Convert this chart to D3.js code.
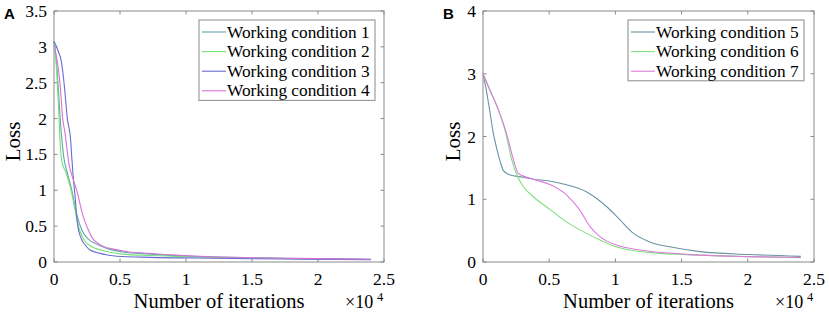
<!DOCTYPE html>
<html>
<script src="https://d3js.org/d3.v7.min.js"></script>

<head>
    <style>
        body {
            margin: 0;
            background-color: #ffffff;
        }

        svg {
            display: block;
        }

        .serif {
            font-family: "Liberation Serif", Tinos, "Times New Roman", "DejaVu Serif", serif;
        }

        .letter {
            font-family: "Liberation Sans", Arimo, Arial, sans-serif;
            font-weight: bold;
        }
    </style>
</head>

<body>
</body>
<script>
    const width = 829,
        height = 323;

    // iterations in units of 1e4, loss values
    const namesA = ["Working condition 1", "Working condition 2", "Working condition 3", "Working condition 4"];
    const namesB = ["Working condition 5", "Working condition 6", "Working condition 7"];

    const cond1 = [[0, 3.08], [0.015, 2.85], [0.03, 2.5], [0.045, 2.05], [0.06, 1.7], [0.075, 1.45], [0.1, 1.25],
        [0.135, 1.0], [0.17, 0.68], [0.21, 0.45], [0.26, 0.32], [0.31, 0.26], [0.4, 0.19], [0.52, 0.14],
        [0.73, 0.11], [1.1, 0.075], [1.5, 0.058], [1.86, 0.048], [2.4, 0.038]];
    const cond2 = [[0, 3.05], [0.015, 2.8], [0.025, 2.5], [0.038, 2.0], [0.048, 1.6], [0.06, 1.4], [0.09, 1.25],
        [0.13, 1.0], [0.155, 0.77], [0.18, 0.54], [0.22, 0.33], [0.28, 0.22], [0.35, 0.17], [0.52, 0.11],
        [0.73, 0.09], [1.1, 0.07], [1.5, 0.055], [1.86, 0.045], [2.4, 0.035]];
    const cond3 = [[0, 3.08], [0.03, 2.95], [0.055, 2.8], [0.076, 2.5], [0.101, 2.0], [0.126, 1.7], [0.135, 1.45],
        [0.145, 1.2], [0.16, 0.91], [0.177, 0.54], [0.21, 0.31], [0.235, 0.24], [0.27, 0.17], [0.35, 0.12],
        [0.475, 0.08], [0.73, 0.065], [1.1, 0.055], [1.5, 0.045], [1.86, 0.04], [2.4, 0.033]];
    const cond4 = [[0, 3.02], [0.02, 2.85], [0.045, 2.5], [0.066, 2.0], [0.083, 1.8], [0.1, 1.55], [0.115, 1.35],
        [0.134, 1.22], [0.172, 1.0], [0.222, 0.63], [0.255, 0.47], [0.285, 0.35], [0.37, 0.22], [0.45, 0.18],
        [0.57, 0.14], [0.73, 0.12], [1.1, 0.08], [1.5, 0.06], [1.86, 0.05], [2.4, 0.038]];

    const cond5 = [[0, 3.0], [0.02, 2.8], [0.05, 2.42], [0.078, 2.05], [0.1, 1.84], [0.13, 1.6], [0.153, 1.46],
        [0.2, 1.39], [0.3, 1.35], [0.38, 1.32], [0.5, 1.29], [0.63, 1.23], [0.78, 1.12], [0.935, 0.88],
        [1.035, 0.67], [1.135, 0.46], [1.26, 0.32], [1.44, 0.23], [1.64, 0.165], [2.0, 0.12], [2.4, 0.09]];
    const cond6 = [[0, 3.0], [0.05, 2.75], [0.117, 2.42], [0.166, 2.1], [0.18, 1.98], [0.217, 1.63], [0.255, 1.39],
        [0.305, 1.2], [0.38, 1.04], [0.51, 0.83], [0.63, 0.64], [0.76, 0.48], [0.885, 0.35], [1.01, 0.24],
        [1.26, 0.15], [1.64, 0.11], [2.0, 0.085], [2.4, 0.07]];
    const cond7 = [[0, 3.0], [0.05, 2.75], [0.117, 2.42], [0.18, 2.03], [0.23, 1.63], [0.267, 1.41], [0.38, 1.32],
        [0.51, 1.23], [0.63, 1.07], [0.73, 0.83], [0.81, 0.56], [0.885, 0.40], [1.01, 0.27], [1.19, 0.19],
        [1.64, 0.11], [2.0, 0.085], [2.4, 0.072]];

    const colorsA = ["#62a3ad", "#74e074", "#6a6ad2", "#d673d6"];
    const colorsB = ["#6a93a3", "#7ee07e", "#dc7bdc"];

    const xTicks = [0, 0.5, 1, 1.5, 2, 2.5];
    const yTicksA = [0, 0.5, 1, 1.5, 2, 2.5, 3, 3.5];
    const yTicksB = [0, 1, 2, 3, 4];

    const svg = d3.select("body").append("svg").attr("width", width).attr("height", height);
    svg.append("rect").attr("width", width).attr("height", height).attr("fill", "white");

    const axisColor = "#8a8a8a";

    function drawPanel(p) {
        const x = d3.scaleLinear().domain([0, 2.5]).range([p.left, p.right]);
        const y = d3.scaleLinear().domain([0, p.yMax]).range([p.bottom, p.top]);
        const g = svg.append("g");

        // box
        g.append("rect")
            .attr("x", p.left).attr("y", p.top)
            .attr("width", p.right - p.left).attr("height", p.bottom - p.top)
            .attr("fill", "none").attr("stroke", axisColor);

        // inward ticks on all four sides
        p.xTicks.forEach(t => {
            g.append("line").attr("x1", x(t)).attr("x2", x(t)).attr("y1", p.bottom).attr("y2", p.bottom - 3.5).attr("stroke", axisColor);
            g.append("line").attr("x1", x(t)).attr("x2", x(t)).attr("y1", p.top).attr("y2", p.top + 3.5).attr("stroke", axisColor);
            g.append("text")
                .attr("class", "serif")
                .attr("x", x(t)).attr("y", p.bottom + 22.5)
                .attr("text-anchor", "middle")
                .attr("font-size", 17.5)
                .text(t);
        });
        p.yTicks.forEach(t => {
            g.append("line").attr("x1", p.left).attr("x2", p.left + 3.5).attr("y1", y(t)).attr("y2", y(t)).attr("stroke", axisColor);
            g.append("line").attr("x1", p.right).attr("x2", p.right - 3.5).attr("y1", y(t)).attr("y2", y(t)).attr("stroke", axisColor);
            g.append("text")
                .attr("class", "serif")
                .attr("x", p.left - 7).attr("y", y(t) + 6)
                .attr("text-anchor", "end")
                .attr("font-size", 17.5)
                .text(t);
        });

        const line = d3.line()
            .x(d => x(d[0]))
            .y(d => y(d[1]))
            .curve(d3.curveMonotoneX);

        p.series.forEach((s, i) => {
            g.append("path")
                .datum(s)
                .attr("fill", "none")
                .attr("stroke", p.colors[i])
                .attr("stroke-width", 1.1)
                .attr("d", line);
        });

        // axis labels
        g.append("text")
            .attr("class", "serif")
            .attr("x", (p.left + p.right) / 2).attr("y", p.bottom + 46)
            .attr("text-anchor", "middle")
            .attr("font-size", 20.5)
            .text("Number of iterations");
        g.append("text")
            .attr("class", "serif")
            .attr("x", p.right - 39).attr("y", p.bottom + 46)
            .attr("font-size", 18)
            .text("\u00d710");
        g.append("text")
            .attr("class", "serif")
            .attr("x", p.right - 7).attr("y", p.bottom + 39)
            .attr("font-size", 12.5)
            .text("4");
        g.append("text")
            .attr("class", "serif")
            .attr("transform", `translate(${p.yLabelX},${(p.top + p.bottom) / 2 + 5}) rotate(-90)`)
            .attr("text-anchor", "middle")
            .attr("font-size", 21)
            .text("Loss");

        // panel letter
        g.append("text")
            .attr("class", "letter")
            .attr("x", p.letterX).attr("y", 18.5)
            .attr("font-size", 15)
            .text(p.letter);

        // legend
        const rowH = 19.6;
        g.append("rect")
            .attr("x", p.legX).attr("y", 20)
            .attr("width", p.legW).attr("height", p.names.length * rowH + 2)
            .attr("fill", "white").attr("stroke", axisColor);
        p.names.forEach((n, i) => {
            const cy = 32 + i * rowH;
            g.append("line")
                .attr("x1", p.legX + 3).attr("x2", p.legX + 27)
                .attr("y1", cy).attr("y2", cy)
                .attr("stroke", p.colors[i]).attr("stroke-width", 1.1);
            g.append("text")
                .attr("class", "serif")
                .attr("x", p.legX + 28).attr("y", cy + 5.5)
                .attr("font-size", 17.3)
                .text(n);
        });
    }

    drawPanel({
        left: 54, right: 384, top: 11, bottom: 262, yMax: 3.5,
        xTicks: xTicks, yTicks: yTicksA,
        series: [cond1, cond2, cond3, cond4], colors: colorsA, names: namesA,
        yLabelX: 20, letter: "A", letterX: 4, legX: 199, legW: 176
    });
    drawPanel({
        left: 483, right: 814, top: 11, bottom: 262, yMax: 4,
        xTicks: xTicks, yTicks: yTicksB,
        series: [cond5, cond6, cond7], colors: colorsB, names: namesB,
        yLabelX: 460, letter: "B", letterX: 443, legX: 628, legW: 176
    });
</script>

</html>
